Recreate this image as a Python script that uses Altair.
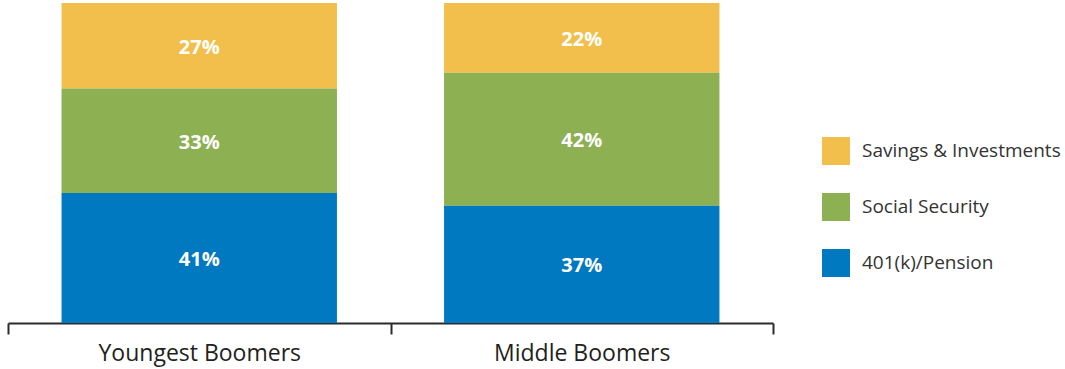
import altair as alt
import pandas as pd

groups = ["Youngest Boomers", "Middle Boomers"]
sources = ["Savings & Investments", "Social Security", "401(k)/Pension"]
colors = ["#F2BF4C", "#8DB052", "#0079C1"]
youngest = [27, 33, 41]
middle = [22, 42, 37]

rows = []
for g, vals in zip(groups, [youngest, middle]):
    for i, (s, v) in enumerate(zip(sources, vals)):
        rows.append({"group": g, "source": s, "value": v, "order": len(sources) - i})
df = pd.DataFrame(rows)

FONT = "Open Sans"

base = alt.Chart(df).transform_stack(
    stack="value", groupby=["group"], as_=["y0", "y1"],
    sort=[alt.SortField("order", order="ascending")]
).transform_calculate(
    mid="(datum.y0 + datum.y1) / 2",
    label="datum.value + '%'"
)

xscale = alt.Scale(paddingInner=0, paddingOuter=0)
xaxis = alt.Axis(tickBand="extent", domainColor="#2b2b2b", domainWidth=2,
                 tickColor="#2b2b2b", tickWidth=2, tickSize=11,
                 labelAngle=0, labelFontSize=23, labelFont=FONT, labelLimit=400,
                 labelColor="#231f20", labelPadding=8, grid=False)
xenc = alt.X("group:N", sort=groups, title=None, scale=xscale, axis=xaxis)

yscale = alt.Scale(domain=[0, 101], nice=False)

bars = base.mark_bar(width=alt.RelativeBandSize(0.72)).encode(
    x=xenc,
    y=alt.Y("y0:Q", scale=yscale, axis=None),
    y2="y1:Q",
    color=alt.Color("source:N", scale=alt.Scale(domain=sources, range=colors),
                    legend=alt.Legend(title=None, orient="none", legendX=814, legendY=134,
                                      symbolType="square", symbolSize=784,
                                      symbolStrokeWidth=0, symbolOpacity=1,
                                      labelFontSize=19, labelFont=FONT, labelLimit=400,
                                      labelColor="#333333", rowPadding=28,
                                      labelOffset=12)),
)

text = base.mark_text(color="white", fontWeight="bold", fontSize=20, font=FONT, dy=2).encode(
    x=xenc,
    y=alt.Y("mid:Q", scale=yscale, axis=None),
    text="label:N",
)

chart = alt.layer(bars, text).properties(
    width=765, height=320,
    padding={"left": 8, "top": 3, "right": 292, "bottom": 46},
    autosize=alt.AutoSizeParams(type="none"),
).configure_view(stroke=None)

chart.save("out.html", embed_options={"renderer": "svg", "actions": False})
